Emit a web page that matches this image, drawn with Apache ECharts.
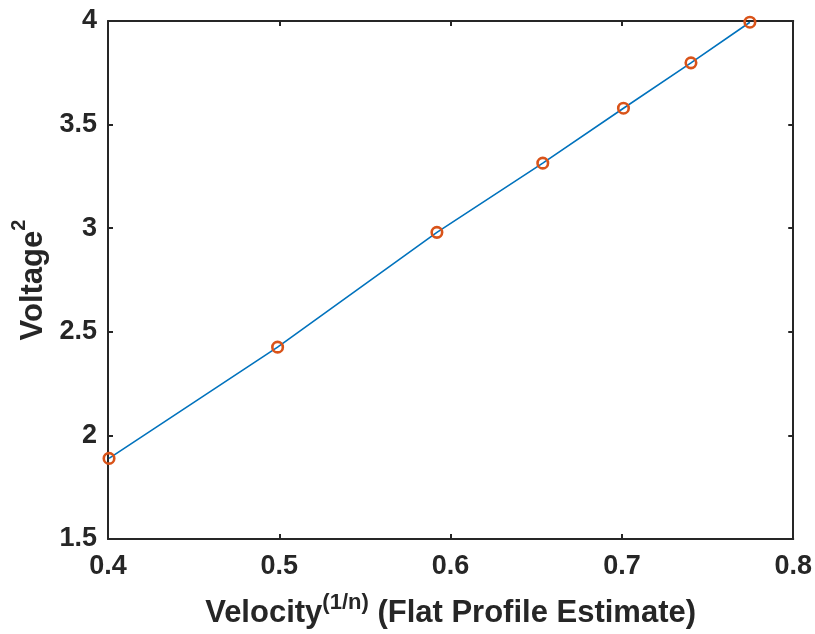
<!DOCTYPE html>
<html>
<head>
<meta charset="utf-8">
<script src="https://cdn.jsdelivr.net/npm/echarts@6/dist/echarts.min.js"></script>
<style>html,body{margin:0;padding:0;background:#fff}#c{width:815px;height:634px}</style>
</head>
<body>
<div id="c"></div>
<script>
var velocity = [0.4006, 0.4990, 0.5920, 0.6538, 0.7009, 0.7403, 0.7747];
var voltageSq = [1.889, 2.426, 2.980, 3.314, 3.579, 3.798, 3.994];
var xTicks = [0.4, 0.5, 0.6, 0.7, 0.8];
var yTicks = [1.5, 2, 2.5, 3, 3.5, 4];

var pts = velocity.map(function (v, i) { return [v, voltageSq[i]]; });
var FONT = '"Liberation Sans", Arial, Helvetica, sans-serif';
var axisCol = '#262626';

function fmtX(v) { return v.toFixed(1); }
function fmtY(v) { return String(+v.toFixed(2)); }

var chart = echarts.init(document.getElementById('c'), null, { renderer: 'canvas' });
var baseAxis = {
  axisLine: { show: true, onZero: false, lineStyle: { color: axisCol, width: 2 } },
  axisTick: { show: true, inside: true, length: 5, lineStyle: { color: axisCol, width: 2 } },
  splitLine: { show: false }
};
var tickFont = { color: '#262626', fontFamily: FONT, fontWeight: 'bold', fontSize: 27 };
chart.setOption({
  backgroundColor: '#fff',
  animation: false,
  grid: { left: 108, top: 21, right: 21, bottom: 92, containLabel: false },
  xAxis: [
    Object.assign({}, baseAxis, {
      type: 'value', position: 'bottom', min: xTicks[0], max: xTicks[xTicks.length - 1], interval: 0.1,
      axisLabel: Object.assign({ show: true, margin: 14, formatter: fmtX, showMinLabel: true, showMaxLabel: true }, tickFont),
      name: '{m|Velocity}{sup|(1/n)}{m| (Flat Profile Estimate)}',
      nameLocation: 'middle', nameGap: 53,
      nameTextStyle: {
        color: '#262626', fontFamily: FONT, fontWeight: 'bold', fontSize: 31,
        rich: {
          m: { fontFamily: FONT, fontWeight: 'bold', fontSize: 31, color: '#262626', verticalAlign: 'bottom' },
          sup: { fontFamily: FONT, fontWeight: 'bold', fontSize: 22, color: '#262626', verticalAlign: 'bottom', padding: [0, 0, 15, 0] }
        }
      }
    }),
    Object.assign({}, baseAxis, {
      type: 'value', position: 'top', min: xTicks[0], max: xTicks[xTicks.length - 1], interval: 0.1,
      axisLabel: { show: false }
    })
  ],
  yAxis: [
    Object.assign({}, baseAxis, {
      type: 'value', position: 'left', min: yTicks[0], max: yTicks[yTicks.length - 1], interval: 0.5,
      axisLabel: Object.assign({ show: true, margin: 11, formatter: fmtY, showMinLabel: true, showMaxLabel: true }, tickFont),
      name: '{m|Voltage}{sup|2}',
      nameLocation: 'middle', nameGap: 59, nameRotate: 90,
      nameTextStyle: {
        color: '#262626', fontFamily: FONT, fontWeight: 'bold', fontSize: 31,
        rich: {
          m: { fontFamily: FONT, fontWeight: 'bold', fontSize: 31, color: '#262626', verticalAlign: 'bottom' },
          sup: { fontFamily: FONT, fontWeight: 'bold', fontSize: 20, color: '#262626', verticalAlign: 'bottom', padding: [0, 0, 19, 0] }
        }
      }
    }),
    Object.assign({}, baseAxis, {
      type: 'value', position: 'right', min: yTicks[0], max: yTicks[yTicks.length - 1], interval: 0.5,
      axisLabel: { show: false }
    })
  ],
  series: [{
    type: 'line',
    data: pts,
    xAxisIndex: 0, yAxisIndex: 0,
    symbol: 'circle', symbolSize: 10.5, showAllSymbol: true,
    lineStyle: { color: '#0072BD', width: 1.6 },
    itemStyle: { color: 'rgba(0,0,0,0)', borderColor: '#D95319', borderWidth: 2.6 },
    clip: false,
    z: 3
  }]
});
</script>
</body>
</html>
